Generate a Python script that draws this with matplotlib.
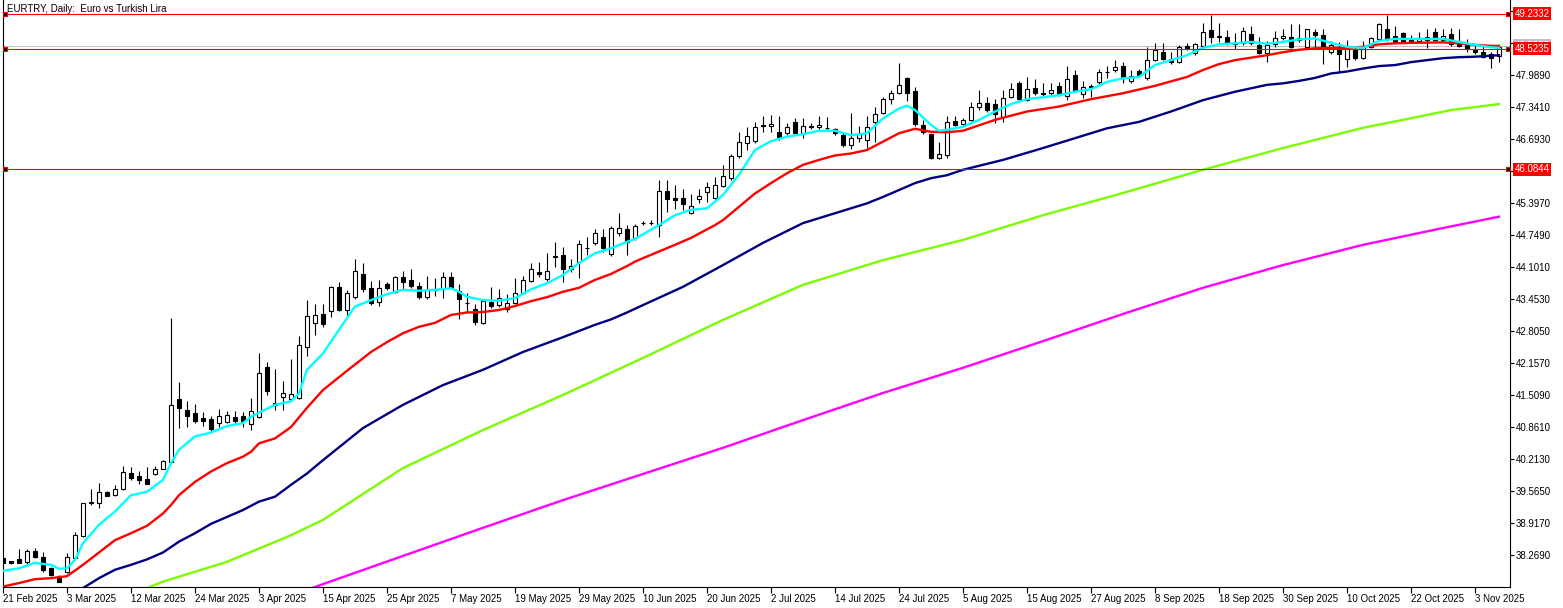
import matplotlib
matplotlib.use("Agg")
import matplotlib.pyplot as plt
import matplotlib.transforms as mtransforms

plt.rcParams['font.family'] = ['Liberation Sans', 'DejaVu Sans']

# daily candles, EURTRY (open, high, low, close)
opens = [38.20, 38.15, 38.19, 38.12, 38.35, 38.22, 38.00, 37.84, 37.93, 38.21,
         38.66, 39.32, 39.32, 39.54, 39.48, 39.60, 39.92, 39.87, 39.80, 39.90,
         40.02, 40.16, 41.42, 41.20, 41.14, 41.04, 41.02, 40.95, 40.97, 41.07,
         41.08, 40.92, 41.07, 42.07, 41.31, 41.47, 41.43, 41.44, 42.49, 42.96,
         43.15, 43.21, 43.69, 43.24, 43.49, 43.96, 43.67, 43.40, 43.76, 43.60,
         43.89, 43.84, 43.72, 43.50, 43.64, 43.65, 43.90, 43.62, 43.38, 43.26,
         42.97, 43.39, 43.33, 43.26, 43.37, 43.57, 43.82, 43.99, 43.85, 44.33,
         44.34, 44.07, 44.21, 44.48, 44.58, 44.70, 44.36, 44.78, 44.88, 44.68,
         44.99, 44.99, 44.95, 45.64, 45.49, 45.49, 45.19, 45.47, 45.61, 45.50,
         45.75, 45.90, 46.35, 46.61, 46.65, 46.98, 46.95, 46.83, 46.81, 47.03,
         46.79, 46.96, 46.93, 46.92, 46.90, 46.77, 46.57, 46.71, 46.67, 47.03,
         47.21, 47.50, 47.62, 47.92, 47.66, 46.98, 46.79, 46.30, 46.36, 47.06,
         46.99, 47.08, 47.35, 47.42, 47.40, 47.14, 47.55, 47.83, 47.48, 47.72,
         47.62, 47.62, 47.77, 47.56, 47.99, 47.60, 47.76, 47.84, 48.06, 48.10,
         48.17, 47.87, 48.07, 47.92, 48.29, 48.46, 48.31, 48.26, 48.58, 48.43,
         48.58, 48.90, 48.76, 48.75, 48.62, 48.63, 48.82, 48.60, 48.43, 48.62,
         48.73, 48.76, 48.73, 48.56, 48.85, 48.80, 48.46, 48.56, 48.31, 48.50,
         48.34, 48.56, 48.72, 48.92, 48.78, 48.83, 48.73, 48.68, 48.76, 48.85,
         48.70, 48.81, 48.64, 48.60, 48.50, 48.45, 48.41, 48.38]
highs = [38.22, 38.15, 38.39, 38.39, 38.42, 38.33, 38.03, 37.87, 38.31, 38.73,
         39.33, 39.61, 39.72, 39.57, 39.69, 40.07, 40.05, 39.97, 40.05, 40.07,
         40.19, 43.06, 41.77, 41.39, 41.33, 41.16, 41.09, 41.23, 41.19, 41.18,
         41.17, 41.44, 42.35, 42.17, 42.04, 41.79, 42.23, 42.70, 43.43, 43.35,
         43.35, 43.72, 43.80, 43.63, 44.26, 44.18, 43.82, 43.84, 43.79, 43.92,
         44.02, 44.07, 43.80, 43.92, 43.87, 44.01, 44.01, 43.75, 43.57, 43.35,
         43.42, 43.70, 43.65, 43.55, 43.87, 43.92, 44.18, 44.20, 44.39, 44.60,
         44.51, 44.26, 44.65, 44.71, 44.88, 44.88, 44.94, 45.19, 44.95, 44.97,
         45.03, 45.06, 45.86, 45.86, 45.76, 45.68, 45.57, 45.68, 45.83, 45.93,
         46.17, 46.39, 46.83, 46.94, 47.04, 47.16, 47.18, 47.16, 47.01, 47.12,
         47.12, 47.01, 47.16, 47.14, 46.92, 46.81, 47.21, 46.96, 47.16, 47.35,
         47.55, 47.69, 48.23, 47.94, 47.75, 47.08, 46.81, 46.63, 47.16, 47.16,
         47.12, 47.45, 47.69, 47.54, 47.50, 47.69, 47.83, 47.87, 47.95, 47.90,
         47.82, 47.83, 47.85, 48.17, 48.09, 47.87, 47.81, 48.12, 48.17, 48.29,
         48.25, 48.10, 48.12, 48.55, 48.63, 48.63, 48.46, 48.60, 48.64, 48.64,
         49.04, 49.20, 49.05, 48.90, 48.83, 48.97, 48.98, 48.76, 48.68, 48.89,
         48.93, 49.02, 49.02, 48.93, 48.92, 48.92, 48.67, 48.66, 48.70, 48.55,
         48.68, 48.76, 49.04, 49.20, 48.99, 48.87, 48.79, 48.85, 48.93, 48.95,
         48.93, 48.95, 48.93, 48.72, 48.62, 48.58, 48.46, 48.56]
lows = [38.10, 38.09, 38.10, 38.08, 38.20, 37.93, 37.85, 37.72, 37.91, 38.19,
        38.64, 39.29, 39.22, 39.46, 39.47, 39.58, 39.79, 39.70, 39.70, 39.89,
        40.01, 40.14, 40.85, 40.87, 40.94, 40.89, 40.79, 40.87, 40.94, 40.94,
        40.87, 40.80, 41.05, 41.50, 41.21, 41.21, 41.40, 41.42, 42.30, 42.73,
        42.89, 43.09, 43.20, 43.06, 43.45, 43.60, 43.33, 43.31, 43.64, 43.57,
        43.64, 43.68, 43.46, 43.46, 43.51, 43.48, 43.65, 43.05, 43.18, 42.92,
        42.94, 43.27, 43.30, 43.18, 43.35, 43.55, 43.80, 43.89, 43.82, 44.11,
        43.80, 44.01, 43.87, 44.34, 44.55, 44.40, 44.33, 44.72, 44.34, 44.65,
        44.95, 44.95, 44.70, 45.22, 45.28, 45.26, 45.17, 45.40, 45.42, 45.48,
        45.72, 45.86, 46.30, 46.47, 46.62, 46.84, 46.84, 46.67, 46.78, 46.78,
        46.71, 46.90, 46.90, 46.88, 46.78, 46.53, 46.50, 46.63, 46.52, 46.64,
        47.19, 47.40, 47.60, 47.46, 46.95, 46.80, 46.29, 46.28, 46.30, 46.95,
        46.95, 47.05, 47.28, 47.25, 47.01, 47.04, 47.52, 47.47, 47.46, 47.58,
        47.54, 47.56, 47.56, 47.48, 47.65, 47.52, 47.54, 47.81, 47.92, 48.06,
        47.83, 47.83, 47.95, 47.89, 48.27, 48.29, 48.22, 48.23, 48.49, 48.40,
        48.55, 48.63, 48.66, 48.60, 48.51, 48.60, 48.60, 48.42, 48.26, 48.55,
        48.70, 48.53, 48.65, 48.52, 48.56, 48.21, 48.41, 48.06, 48.16, 48.30,
        48.32, 48.54, 48.70, 48.68, 48.63, 48.64, 48.64, 48.65, 48.53, 48.65,
        48.66, 48.58, 48.55, 48.45, 48.42, 48.33, 48.14, 48.26]
closes = [38.11, 38.10, 38.11, 38.35, 38.22, 37.97, 37.86, 37.73, 38.22, 38.67,
          39.32, 39.34, 39.54, 39.47, 39.60, 39.94, 39.83, 39.79, 39.70, 40.02,
          40.17, 41.31, 41.25, 41.09, 40.99, 40.99, 40.82, 41.08, 41.10, 40.99,
          40.99, 41.18, 41.95, 41.60, 41.34, 41.54, 41.52, 42.52, 43.10, 43.13,
          42.94, 43.69, 43.23, 43.57, 44.03, 43.66, 43.38, 43.67, 43.67, 43.89,
          43.80, 43.72, 43.50, 43.64, 43.65, 43.90, 43.67, 43.46, 43.37, 42.99,
          43.41, 43.31, 43.48, 43.37, 43.57, 43.84, 44.06, 43.96, 44.02, 44.30,
          44.07, 44.13, 44.57, 44.49, 44.78, 44.48, 44.90, 44.90, 44.61, 44.93,
          45.00, 45.00, 45.64, 45.47, 45.46, 45.37, 45.34, 45.54, 45.72, 45.76,
          45.94, 46.35, 46.63, 46.75, 46.94, 46.95, 46.99, 46.74, 46.93, 46.81,
          46.96, 46.93, 46.98, 46.92, 46.81, 46.57, 46.71, 46.79, 46.93, 47.19,
          47.50, 47.62, 47.79, 47.62, 46.99, 46.83, 46.30, 46.38, 47.04, 46.98,
          47.08, 47.35, 47.42, 47.29, 47.20, 47.52, 47.70, 47.50, 47.71, 47.63,
          47.60, 47.69, 47.60, 47.90, 47.67, 47.75, 47.75, 48.04, 48.05, 48.16,
          47.93, 47.97, 47.98, 48.29, 48.49, 48.31, 48.25, 48.55, 48.53, 48.61,
          48.87, 48.75, 48.77, 48.63, 48.63, 48.89, 48.63, 48.44, 48.60, 48.73,
          48.78, 48.56, 48.70, 48.93, 48.80, 48.56, 48.60, 48.41, 48.56, 48.34,
          48.56, 48.73, 49.02, 48.72, 48.66, 48.68, 48.68, 48.73, 48.70, 48.70,
          48.78, 48.61, 48.58, 48.52, 48.45, 48.36, 48.34, 48.55]

# moving averages, sampled at bar numbers
cyan_bars = [0, 2, 4, 6, 7, 8, 9, 10, 12, 14, 16, 18, 20, 21, 22, 24, 26, 28, 30, 31,
             32, 34, 36, 37, 38, 40, 42, 44, 46, 48, 50, 52, 54, 56, 57, 58, 60, 62, 64, 66,
             68, 70, 72, 74, 76, 78, 79, 82, 84, 86, 88, 90, 92, 94, 96, 98, 100, 102, 104, 106,
             108, 110, 112, 113, 114, 116, 117, 118, 120, 122, 124, 126, 128, 130, 132, 134, 136, 138, 140, 142,
             144, 146, 148, 150, 152, 154, 156, 158, 160, 162, 164, 166, 168, 170, 172, 174, 176, 178, 180, 182,
             184, 186, 187]
cyan_vals = [37.95, 38.00, 38.11, 38.07, 37.99, 38.00, 38.17, 38.51, 38.88, 39.15, 39.48, 39.55, 39.79, 40.13, 40.40, 40.67, 40.75, 40.88, 40.94, 41.07,
             41.15, 41.31, 41.38, 41.54, 42.02, 42.35, 42.83, 43.30, 43.43, 43.55, 43.64, 43.62, 43.64, 43.67, 43.60, 43.50, 43.43, 43.42, 43.47, 43.65,
             43.77, 43.94, 44.18, 44.38, 44.48, 44.61, 44.67, 44.95, 45.15, 45.26, 45.29, 45.56, 45.97, 46.47, 46.65, 46.74, 46.79, 46.86, 46.86, 46.77,
             46.81, 47.11, 47.31, 47.37, 47.28, 46.98, 46.86, 46.88, 46.94, 47.08, 47.25, 47.40, 47.50, 47.54, 47.58, 47.65, 47.70, 47.85, 47.92, 47.95,
             48.19, 48.29, 48.39, 48.54, 48.61, 48.63, 48.66, 48.62, 48.66, 48.71, 48.73, 48.64, 48.56, 48.54, 48.68, 48.72, 48.72, 48.72, 48.72, 48.66,
             48.60, 48.55, 48.54]

red_bars = [0, 2, 4, 6, 8, 10, 12, 14, 16, 18, 20, 21, 22, 24, 26, 28, 30, 31, 32, 34,
            36, 38, 40, 43, 46, 48, 50, 52, 54, 56, 58, 60, 62, 64, 66, 68, 70, 72, 74, 76,
            78, 79, 80, 84, 86, 89, 90, 92, 94, 96, 98, 100, 102, 104, 106, 108, 110, 112, 114, 116,
            118, 120, 124, 128, 132, 136, 140, 144, 148, 150, 152, 154, 156, 158, 160, 162, 164, 166, 168, 170,
            172, 174, 176, 180, 182, 184, 186, 187]
red_vals = [37.63, 37.70, 37.78, 37.80, 37.84, 38.07, 38.32, 38.57, 38.71, 38.86, 39.11, 39.28, 39.48, 39.75, 39.96, 40.13, 40.26, 40.36, 40.53, 40.63,
            40.86, 41.25, 41.61, 42.00, 42.38, 42.58, 42.76, 42.89, 42.97, 43.13, 43.18, 43.19, 43.23, 43.31, 43.41, 43.49, 43.60, 43.68, 43.84, 43.96,
            44.12, 44.21, 44.28, 44.55, 44.69, 44.95, 45.05, 45.32, 45.59, 45.80, 46.00, 46.17, 46.27, 46.36, 46.40, 46.47, 46.64, 46.81, 46.90, 46.84,
            46.83, 46.86, 47.08, 47.25, 47.35, 47.50, 47.62, 47.77, 47.95, 48.09, 48.21, 48.29, 48.34, 48.39, 48.45, 48.50, 48.53, 48.54, 48.54, 48.56,
            48.61, 48.63, 48.64, 48.65, 48.63, 48.60, 48.58, 48.58]

navy_bars = [8, 10, 12, 14, 16, 18, 20, 22, 24, 26, 28, 30, 32, 34, 36, 38, 40, 45, 50, 55,
             60, 65, 70, 74, 76, 78, 80, 85, 90, 95, 100, 104, 108, 110, 112, 114, 116, 118, 120, 125,
             130, 134, 138, 142, 146, 150, 154, 158, 160, 162, 164, 166, 168, 170, 172, 174, 176, 178, 180, 182,
             184, 186, 187]
navy_vals = [37.44, 37.60, 37.80, 37.97, 38.07, 38.18, 38.32, 38.54, 38.71, 38.90, 39.04, 39.18, 39.35, 39.45, 39.69, 39.92, 40.19, 40.84, 41.31, 41.71,
             42.02, 42.38, 42.68, 42.93, 43.04, 43.18, 43.33, 43.70, 44.14, 44.59, 44.99, 45.19, 45.39, 45.52, 45.66, 45.80, 45.90, 45.96, 46.07, 46.27,
             46.51, 46.71, 46.91, 47.04, 47.25, 47.48, 47.65, 47.79, 47.82, 47.87, 47.93, 48.02, 48.06, 48.12, 48.17, 48.19, 48.25, 48.29, 48.33, 48.35,
             48.36, 48.38, 48.39]

green_bars = [16, 18, 20, 24, 28, 32, 36, 40, 50, 60, 70, 80, 90, 100, 110, 120, 130, 140, 150, 160,
              170, 175, 181, 187]
green_vals = [37.44, 37.60, 37.73, 37.93, 38.13, 38.40, 38.67, 38.98, 40.03, 40.80, 41.51, 42.26, 43.03, 43.74, 44.24, 44.65, 45.15, 45.60, 46.07, 46.51,
              46.92, 47.08, 47.28, 47.40]

magenta_bars = [36, 40, 50, 60, 70, 80, 90, 100, 110, 120, 130, 140, 150, 160, 170, 180, 187]
magenta_vals = [37.44, 37.68, 38.25, 38.82, 39.38, 39.91, 40.44, 41.00, 41.55, 42.06, 42.60, 43.15, 43.68, 44.14, 44.55, 44.89, 45.12]

# horizontal lines and axis
hlines = [49.2332, 48.5235, 46.0844]
bid_price = 48.585
ytick_vals = [38.2690 + 0.648 * k for k in range(18)]
date_labels = ['21 Feb 2025', '3 Mar 2025', '12 Mar 2025', '24 Mar 2025', '3 Apr 2025',
               '15 Apr 2025', '25 Apr 2025', '7 May 2025', '19 May 2025', '29 May 2025',
               '10 Jun 2025', '20 Jun 2025', '2 Jul 2025', '14 Jul 2025', '24 Jul 2025',
               '5 Aug 2025', '15 Aug 2025', '27 Aug 2025', '8 Sep 2025', '18 Sep 2025',
               '30 Sep 2025', '10 Oct 2025', '22 Oct 2025', '3 Nov 2025']

W, H = 1563, 608
fig = plt.figure(figsize=(W / 100, H / 100), dpi=100)
ax = fig.add_axes([2.5 / W, 21 / H, (1510 - 2.5) / W, 587 / H])

n = len(opens)
x = list(range(n))

# candles
ax.vlines(x, lows, highs, color='black', linewidth=0.8, zorder=2)
bottoms = [min(o, c) for o, c in zip(opens, closes)]
heights = [max(abs(c - o), 0.004) for o, c in zip(opens, closes)]
faces = ['white' if c >= o else 'black' for o, c in zip(opens, closes)]
ax.bar(x, heights, bottom=bottoms, width=0.55, color=faces,
       edgecolor='black', linewidth=0.8, zorder=3)

# moving averages
ax.plot(magenta_bars, magenta_vals, color='#FF00FF', lw=1.7, zorder=4)
ax.plot(green_bars, green_vals, color='#7CFC00', lw=1.7, zorder=4)
ax.plot(navy_bars, navy_vals, color='#000080', lw=1.7, zorder=4)
ax.plot(red_bars, red_vals, color='#FF0000', lw=1.7, zorder=4)
ax.plot(cyan_bars, cyan_vals, color='#00FFFF', lw=1.7, zorder=4)

tr = mtransforms.blended_transform_factory(ax.transAxes, ax.transData)

# bid line with its (mostly covered) grey price box
ax.axhline(bid_price, color='#C0C0C0', lw=0.8, zorder=1)
ax.text(1.003, bid_price, f'{bid_price:.4f}', transform=tr, ha='left', va='center', fontsize=7,
        color='white', clip_on=False, zorder=6,
        bbox=dict(boxstyle='square,pad=0.15', fc='#C0C0C0', ec='none'))

# horizontal lines with end markers and price boxes
for v in hlines:
    ax.axhline(v, color='#FF0000', lw=0.8, zorder=5)
    for xa in (0.0015, 0.9985):
        ax.plot([xa], [v], marker='s', ms=3.2, mfc='black', mec='#FF0000', mew=0.8,
                transform=tr, clip_on=False, zorder=6)
    ax.text(1.003, v, f'{v:.4f}', transform=tr, ha='left', va='center', fontsize=7,
            color='white', clip_on=False, zorder=7,
            bbox=dict(boxstyle='square,pad=0.15', fc='#FF0000', ec='none'))

ax.set_xlim(-0.0625, 188.375)
ax.set_ylim(37.621, 49.508)

ax.yaxis.tick_right()
ax.set_yticks(ytick_vals)
ax.set_yticklabels([f'{v:.4f}' for v in ytick_vals])
ax.tick_params(axis='y', length=3, width=0.8, pad=1, labelsize=7, direction='out')

ax.set_xticks(list(range(0, 8 * len(date_labels), 8)))
ax.set_xticklabels(date_labels, ha='left')
ax.tick_params(axis='x', length=4, width=0.8, pad=1, labelsize=7, direction='out')

for side in ('left', 'right', 'bottom'):
    ax.spines[side].set_linewidth(0.8)
ax.spines['top'].set_visible(False)

fig.text(7 / W, 1 - 9.5 / H, 'EURTRY, Daily:  Euro vs Turkish Lira', ha='left', va='center', fontsize=7)

fig.savefig('out.png', dpi=100)
